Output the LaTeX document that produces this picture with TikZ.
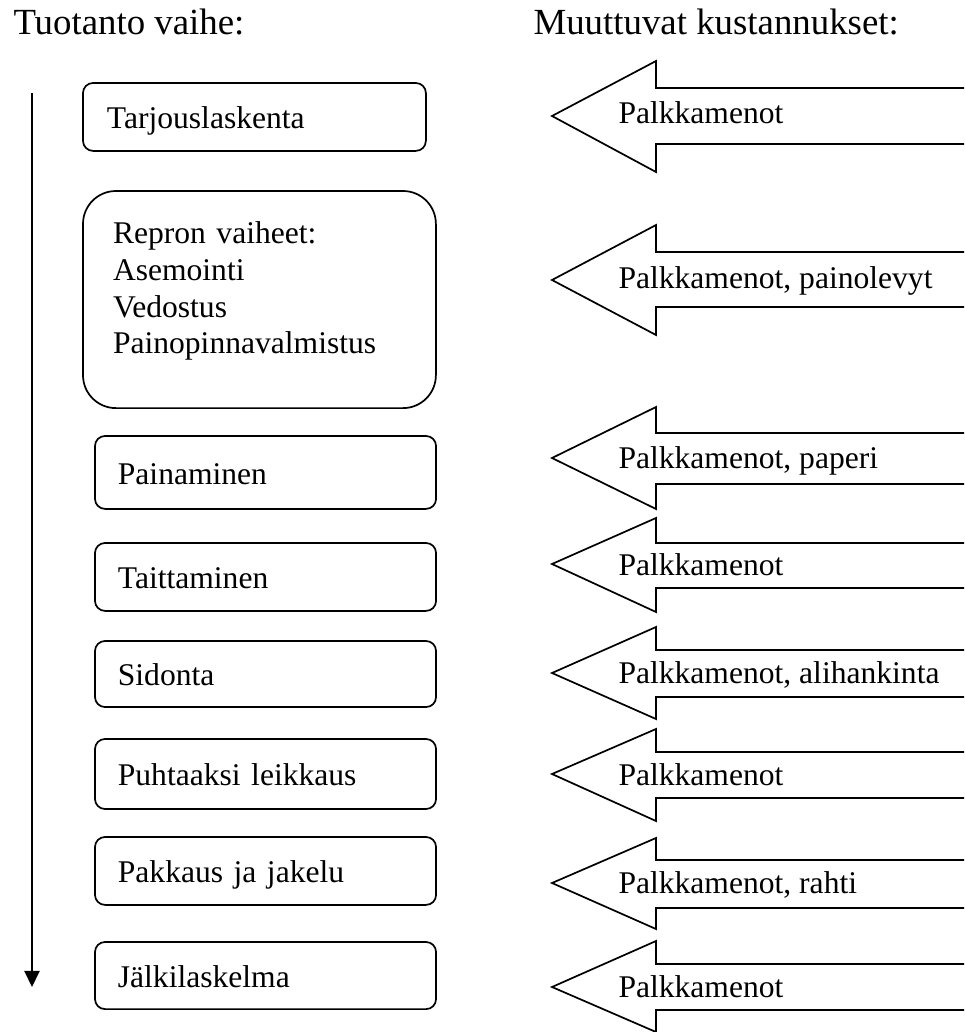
\documentclass[tikz,border=0pt]{standalone}
\usepackage{fontspec}
\setmainfont{Liberation Serif}
\usetikzlibrary{arrows.meta}

\begin{document}
\begin{tikzpicture}[x=0.38pt,y=-0.38pt,
    every node/.style={font=\fontsize{12}{14}\selectfont},
    head/.style={anchor=base west,inner sep=0pt,font=\fontsize{14}{16}\selectfont},
    phase/.style={draw,line width=0.65pt,rounded corners=3.8pt,anchor=north west,outer sep=0pt,
        align=left,inner xsep=8.7pt,text width=112.2pt,minimum width=129.6pt,minimum height=25.8pt},
    onerow/.style={text height=10pt,text depth=1.2pt},
    cost/.style={draw,line width=0.65pt,line join=miter},
    costtext/.style={anchor=base west,inner sep=0pt}]

    \useasboundingbox (0,0) rectangle (964,1032);

    \node[head] (thdr) at (13,34) {Tuotanto vaihe:};
    \node[head] (chdr) at (533,34) {Muuttuvat kustannukset:};

    % production phases
    \node[phase,onerow,inner xsep=9.1pt,text width=112.1pt,minimum width=130.3pt] (tarj) at (83,83) {Tarjouslaskenta};
    \node[phase,inner xsep=11.4pt,text width=111.3pt,minimum width=134.1pt,minimum height=82.5pt,rounded corners=12.5pt] (repro) at (83,191)
        {Repron vaiheet:\\ Asemointi\\ Vedostus\\ Painopinnavalmistus\\[-5pt] \mbox{}};
    \node[phase,onerow,minimum height=27.7pt] (paino) at (95,436) {Painaminen};
    \node[phase,onerow] (taitto) at (95,543) {Taittaminen};
    \node[phase,onerow,minimum height=25.1pt] (sidonta) at (95,641) {Sidonta};
    \node[phase,onerow,minimum height=26.6pt] (leikkaus) at (95,739) {Puhtaaksi leikkaus};
    \node[phase,onerow] (jakelu) at (95,837) {Pakkaus ja jakelu};
    \node[phase,onerow,minimum height=25.5pt] (jalki) at (95,942) {Jälkilaskelma};

    \coordinate (flowtop) at (32,93);
    \coordinate (flowend) at (32,987);
    \draw[line width=0.8pt,-{Triangle[length=6.1pt,width=5.7pt]}] (flowtop) -- (flowend);

    % variable costs
    \foreach \nm/\ya/\yb/\yc/\yd/\ye/\yt/\txt in {
        c1/61/88/116/144/172/123/Palkkamenot,
        c2/225/252/280/307/335/288/{Palkkamenot, painolevyt},
        c3/407/433/458/484/509/468/{Palkkamenot, paperi},
        c4/518/543/564/588/612/575/Palkkamenot,
        c5/627/650/673/697/719/683/{Palkkamenot, alihankinta},
        c6/729/752/774/798/821/785/Palkkamenot,
        c7/838/860/883/908/929/893/{Palkkamenot, rahti},
        c8/941/964/987/1010/1032/997/Palkkamenot}
    {
        \draw[cost] (964,\yb) -- (656,\yb) -- (656,\ya) -- (552,\yc) -- (656,\ye) -- (656,\yd) -- (964,\yd);
        \node[costtext] (\nm) at (618,\yt) {\txt};
    }

\end{tikzpicture}
\end{document}
